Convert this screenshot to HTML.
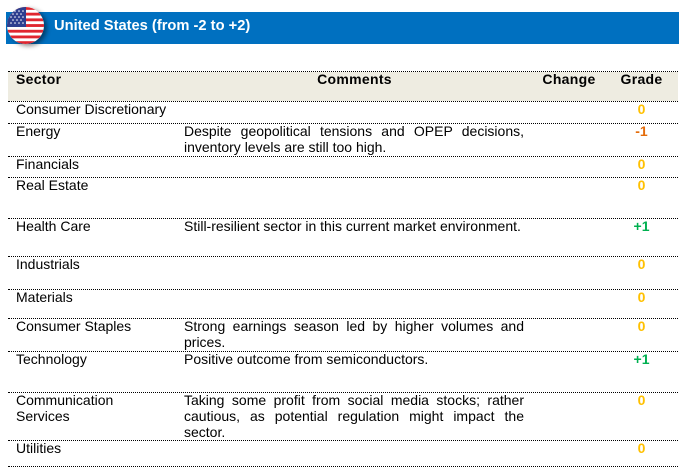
<!DOCTYPE html>
<html>
<head>
<meta charset="utf-8">
<style>
  html, body { margin:0; padding:0; background:#fff; }
  body { width:684px; height:475px; position:relative; overflow:hidden;
         font-family:"Liberation Sans", Arial, sans-serif; color:#000; }
  .bar { position:absolute; left:6px; top:12px; width:673px; height:32px; background:#0070C0; }
  .title { position:absolute; left:54px; top:19px; font-size:14.7px; line-height:15px; font-weight:bold; color:#fff; white-space:nowrap; }
  .flag { position:absolute; left:7px; top:7px; width:37px; height:37px; border-radius:50%;
          box-shadow:3px 2px 5px rgba(0,0,0,0.45); overflow:hidden; }
  .hdrbg { position:absolute; left:8px; top:72px; width:670px; height:29px; background:#EEECE1; }
  .ln { position:absolute; left:8px; width:670px; height:0; border-top:1px dotted #000; }
  .t { position:absolute; font-size:14px; line-height:16px; white-space:nowrap; }
  .h { position:absolute; font-size:14px; line-height:16px; font-weight:bold; white-space:nowrap; letter-spacing:0.3px; }
  .c { position:absolute; left:184px; width:340px; font-size:14px; line-height:16px; }
  .c div { text-align:justify; text-align-last:justify; white-space:nowrap; }
  .c div.last { text-align:left; text-align-last:left; }
  .g { position:absolute; left:621px; width:41px; text-align:center; font-size:14px; line-height:16px; font-weight:bold; }
  .z { color:#FFC000; }
  .m { color:#E46C0A; }
  .p { color:#00B050; }
</style>
</head>
<body>
  <div class="bar"></div>
  <div class="flag">
    <svg width="37" height="37" viewBox="0 0 37 37">
      <rect x="0" y="0" width="37" height="37" fill="#fff"/>
      <rect x="0" y="0.0" width="37" height="2.85" fill="#E0262F"/>
      <rect x="0" y="5.7" width="37" height="2.85" fill="#E0262F"/>
      <rect x="0" y="11.4" width="37" height="2.85" fill="#E0262F"/>
      <rect x="0" y="17.1" width="37" height="2.85" fill="#E0262F"/>
      <rect x="0" y="22.8" width="37" height="2.85" fill="#E0262F"/>
      <rect x="0" y="28.5" width="37" height="2.85" fill="#E0262F"/>
      <rect x="0" y="34.2" width="37" height="2.85" fill="#E0262F"/>
      <rect x="0" y="0" width="19" height="20" fill="#2E3F8F"/>
      <g fill="#fff">
        <circle cx="4" cy="4" r="0.8"/><circle cx="8" cy="4" r="0.8"/><circle cx="12" cy="4" r="0.8"/><circle cx="16" cy="4" r="0.8"/>
        <circle cx="6" cy="7" r="0.8"/><circle cx="10" cy="7" r="0.8"/><circle cx="14" cy="7" r="0.8"/>
        <circle cx="4" cy="10" r="0.8"/><circle cx="8" cy="10" r="0.8"/><circle cx="12" cy="10" r="0.8"/><circle cx="16" cy="10" r="0.8"/>
        <circle cx="6" cy="13" r="0.8"/><circle cx="10" cy="13" r="0.8"/><circle cx="14" cy="13" r="0.8"/>
        <circle cx="4" cy="16" r="0.8"/><circle cx="8" cy="16" r="0.8"/><circle cx="12" cy="16" r="0.8"/><circle cx="16" cy="16" r="0.8"/>
      </g>
    </svg>
  </div>
  <div class="title">United States (from -2 to +2)</div>

  <div class="hdrbg"></div>
  <div class="ln" style="top:71px"></div>
  <div class="ln" style="top:101px"></div>
  <div class="ln" style="top:123px"></div>
  <div class="ln" style="top:156px"></div>
  <div class="ln" style="top:177px"></div>
  <div class="ln" style="top:218px"></div>
  <div class="ln" style="top:256px"></div>
  <div class="ln" style="top:289px"></div>
  <div class="ln" style="top:318px"></div>
  <div class="ln" style="top:351px"></div>
  <div class="ln" style="top:392px"></div>
  <div class="ln" style="top:440px"></div>
  <div class="ln" style="top:466px"></div>

  <div class="h" style="left:16px; top:71px;">Sector</div>
  <div class="h" style="left:184px; width:341px; text-align:center; top:71px;">Comments</div>
  <div class="h" style="left:532px; width:74px; text-align:center; top:71px;">Change</div>
  <div class="h" style="left:611px; width:61px; text-align:center; top:71px;">Grade</div>

  <div class="t" style="left:16px; top:101px;">Consumer Discretionary</div>
  <div class="g z" style="top:101px;">0</div>

  <div class="t" style="left:16px; top:123px;">Energy</div>
  <div class="c" style="top:123px;"><div>Despite geopolitical tensions and OPEP decisions,</div><div class="last">inventory levels are still too high.</div></div>
  <div class="g m" style="top:123px;">-1</div>

  <div class="t" style="left:16px; top:156px;">Financials</div>
  <div class="g z" style="top:156px;">0</div>

  <div class="t" style="left:16px; top:177px;">Real Estate</div>
  <div class="g z" style="top:177px;">0</div>

  <div class="t" style="left:16px; top:218px;">Health Care</div>
  <div class="c" style="top:218px;"><div class="last">Still-resilient sector in this current market environment.</div></div>
  <div class="g p" style="top:218px;">+1</div>

  <div class="t" style="left:16px; top:256px;">Industrials</div>
  <div class="g z" style="top:256px;">0</div>

  <div class="t" style="left:16px; top:289px;">Materials</div>
  <div class="g z" style="top:289px;">0</div>

  <div class="t" style="left:16px; top:318px;">Consumer Staples</div>
  <div class="c" style="top:318px;"><div>Strong earnings season led by higher volumes and</div><div class="last">prices.</div></div>
  <div class="g z" style="top:318px;">0</div>

  <div class="t" style="left:16px; top:351px;">Technology</div>
  <div class="c" style="top:351px;"><div class="last">Positive outcome from semiconductors.</div></div>
  <div class="g p" style="top:351px;">+1</div>

  <div class="t" style="left:16px; top:392px;">Communication<br>Services</div>
  <div class="c" style="top:392px;"><div>Taking some profit from social media stocks; rather</div><div>cautious, as potential regulation might impact the</div><div class="last">sector.</div></div>
  <div class="g z" style="top:392px;">0</div>

  <div class="t" style="left:16px; top:440px;">Utilities</div>
  <div class="g z" style="top:440px;">0</div>
</body>
</html>
